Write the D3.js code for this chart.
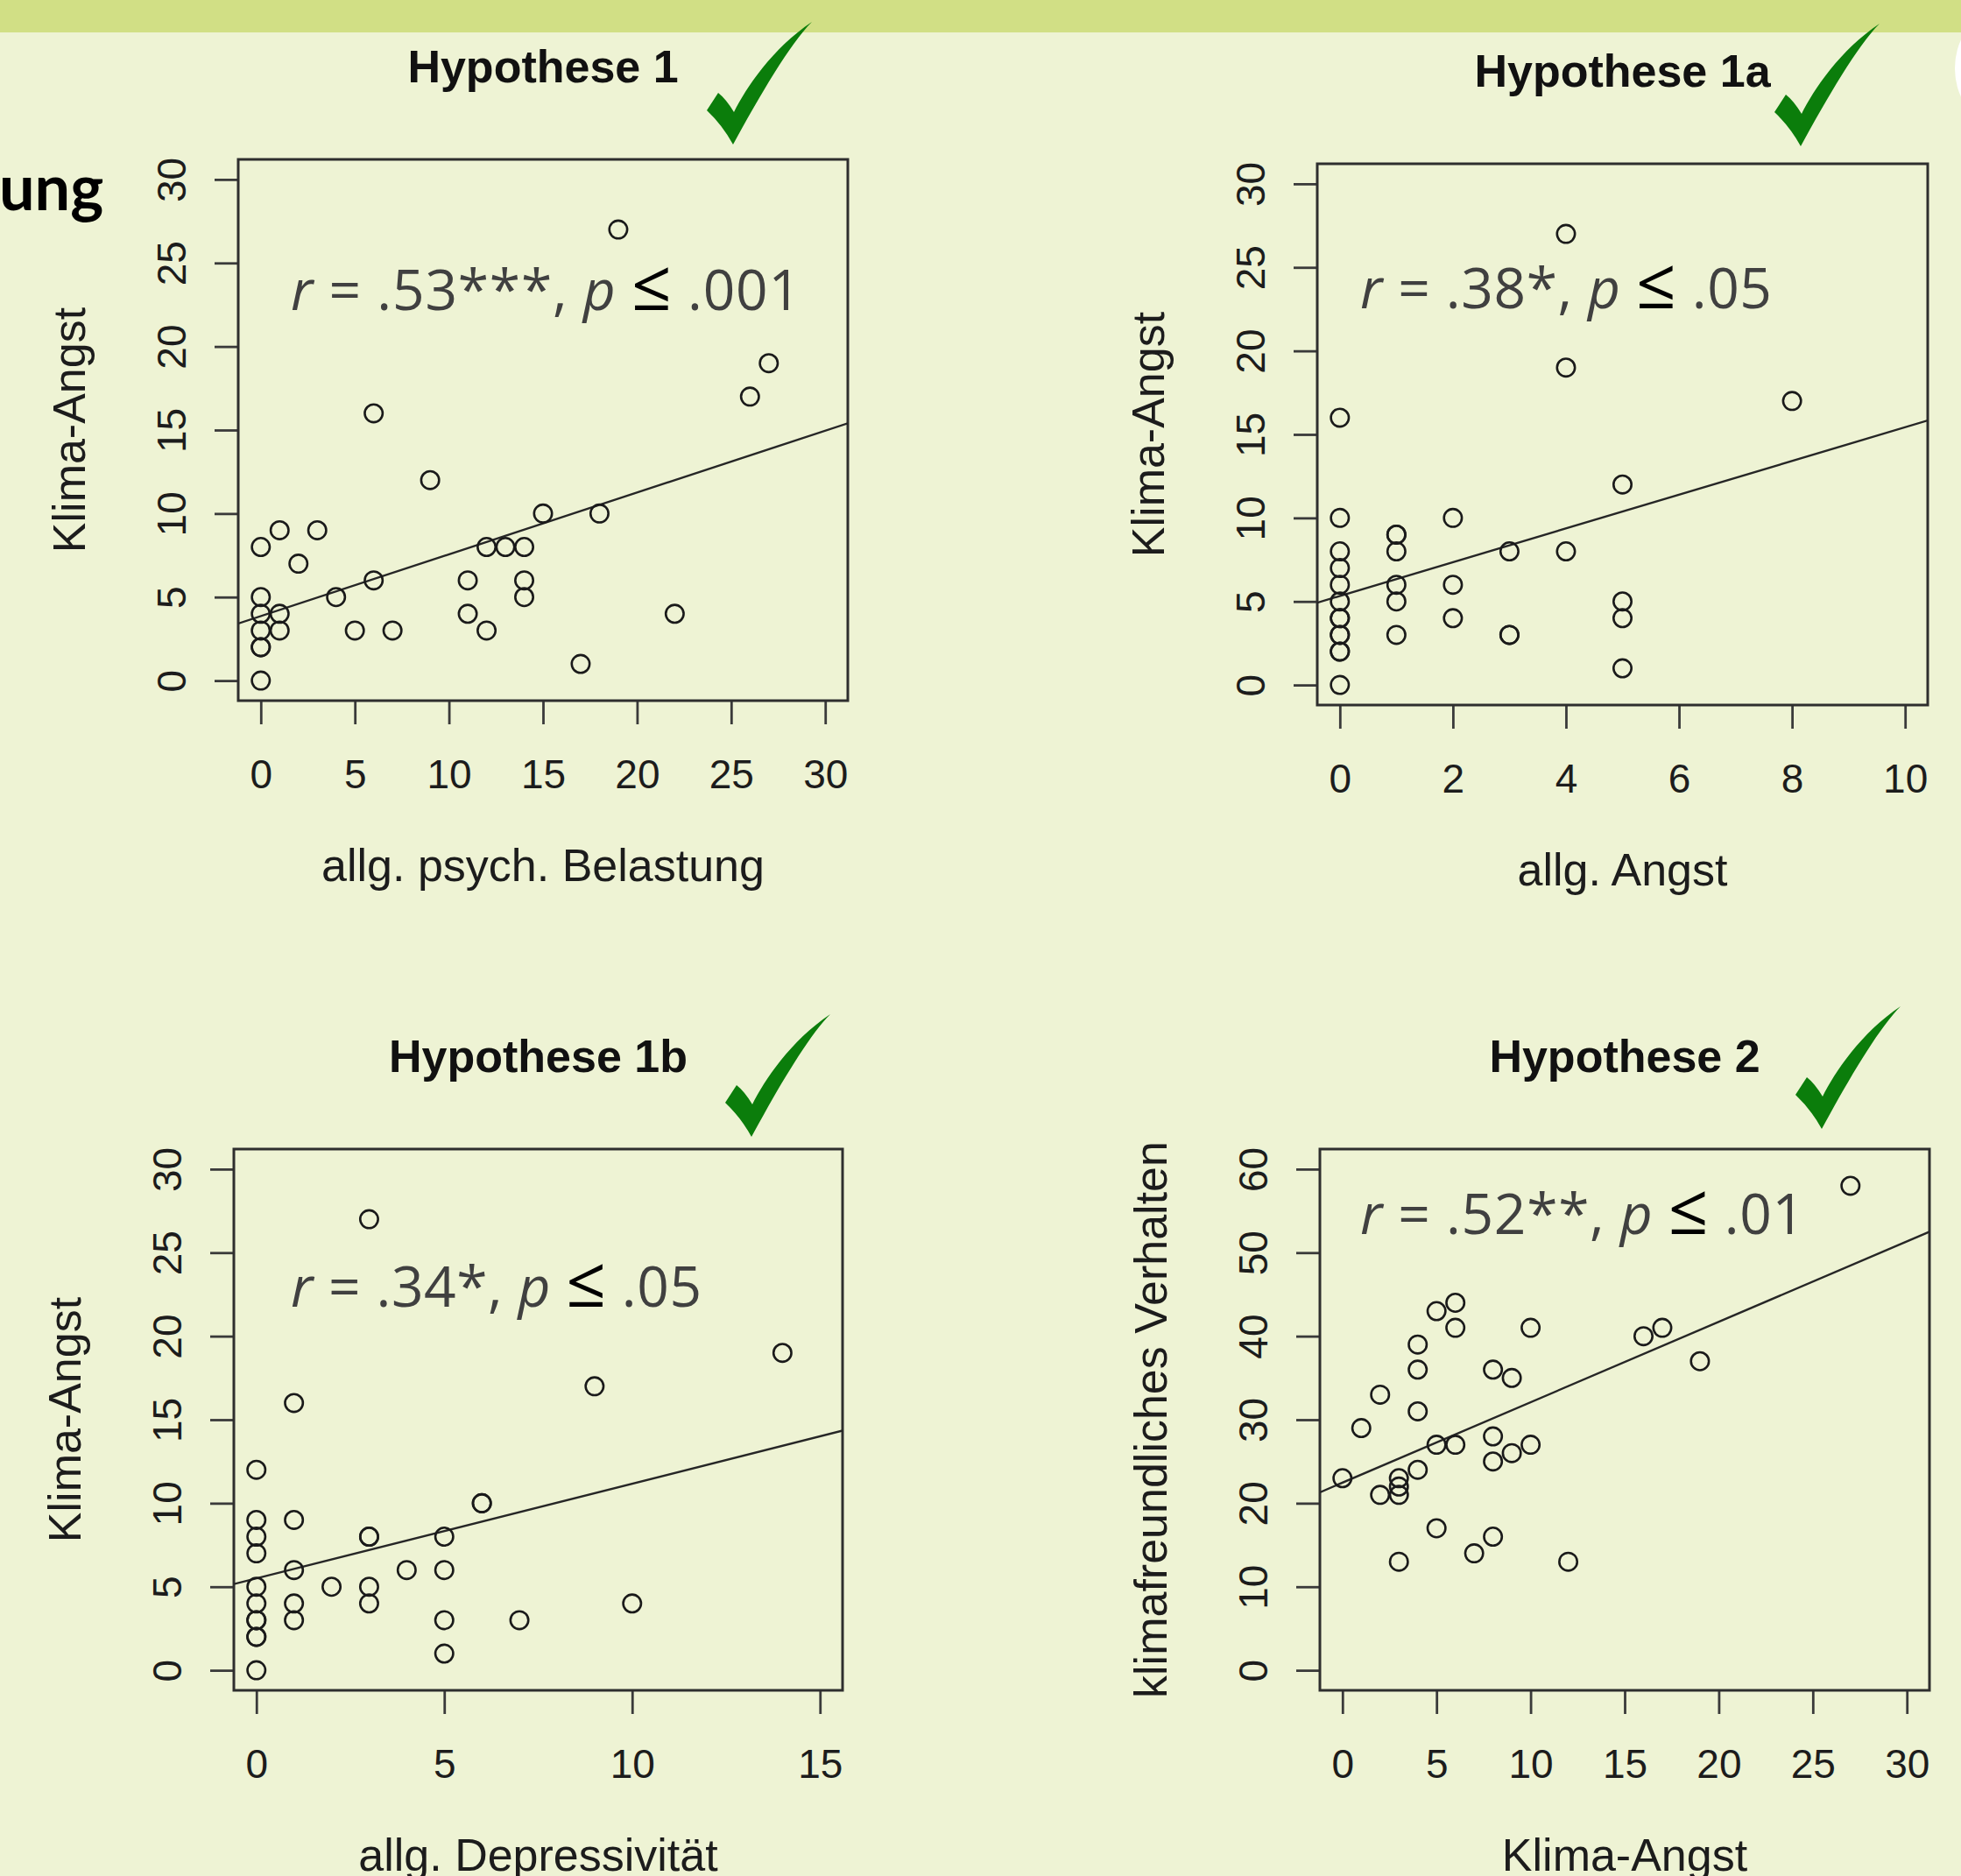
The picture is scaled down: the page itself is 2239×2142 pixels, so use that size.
<!DOCTYPE html>
<html>
<head>
<meta charset="utf-8">
<script src="https://cdn.jsdelivr.net/npm/d3@7"></script>
<style>
body { margin: 0; background: #eef3d4; }
svg { display: block; }
</style>
</head>
<body>
<script>
// --- data ---
var belastung    = [0,0,0,0,0,0,0,1,1,1,2,3,4,5,6,6,7,9,11,11,12,12,13,14,14,14,15,17,18,19,22,26,27];
var klimaAngstH1 = [0,2,2,3,4,5,8,3,4,9,7,9,5,3,16,6,3,12,6,4,8,3,8,8,6,5,10,1,10,27,4,17,19];

var angst         = [0,0,0,0,0,0,0,0,0,0,0,0,0,1,1,1,1,1,1,2,2,2,3,3,3,4,4,4,5,5,5,5,8];
var klimaAngstH1a = [0,2,2,3,3,4,4,5,6,7,8,10,16,3,5,6,8,9,9,4,6,10,3,3,8,8,19,27,1,4,5,12,17];

var depress       = [0,0,0,0,0,0,0,0,0,0,0,1,1,1,1,1,2,3,3,3,3,3,4,5,5,5,5,6,6,7,9,10,14];
var klimaAngstH1b = [0,2,2,3,3,4,5,7,8,9,12,3,4,6,9,16,5,4,5,8,8,27,6,1,3,6,8,10,10,3,17,4,19];

var klimaAngstH2 = [0,1,2,2,3,3,3,3,4,4,4,4,5,5,5,6,6,6,7,8,8,8,8,9,9,10,10,12,16,17,19,27];
var verhalten    = [23,29,33,21,23,22,21,13,39,36,31,24,43,27,17,44,41,27,14,36,28,25,16,35,26,41,27,13,40,41,37,58];

// regression lines [intercept, slope]
var fitH1 = [3.86, 0.37], fitH1a = [5.33, 1.01], fitH1b = [5.5, 0.567], fitH2 = [22.46, 0.963];

var ticks30 = [0,5,10,15,20,25,30], ticks10 = [0,2,4,6,8,10], ticks15 = [0,5,10,15], ticks60 = [0,10,20,30,40,50,60];

var titles  = ['Hypothese 1', 'Hypothese 1a', 'Hypothese 1b', 'Hypothese 2'];
var xTitles = ['allg. psych. Belastung', 'allg. Angst', 'allg. Depressivität', 'Klima-Angst'];
var yTitles = ['Klima-Angst', 'Klima-Angst', 'Klima-Angst', 'klimafreundliches Verhalten'];
var stats   = [['.53***', '.001'], ['.38*', '.05'], ['.34*', '.05'], ['.52**', '.01']];

// layout of each plot region (px) plus where the stat label and the check mark sit
var panels = [
  {x: belastung, y: klimaAngstH1, fit: fitH1, xd: [0,30], yd: [0,30], xt: ticks30, yt: ticks30,
   box: [272, 968, 182, 800], stat: [332, 354, 582], check: [807, 25]},
  {x: angst, y: klimaAngstH1a, fit: fitH1a, xd: [0,10], yd: [0,30], xt: ticks10, yt: ticks30,
   box: [1504, 2201, 187, 805], stat: [1553, 352, 470], check: [2026, 27]},
  {x: depress, y: klimaAngstH1b, fit: fitH1b, xd: [0,15], yd: [0,30], xt: ticks15, yt: ticks30,
   box: [267, 962, 1312, 1930], stat: [332, 1492, 469], check: [828, 1158]},
  {x: klimaAngstH2, y: verhalten, fit: fitH2, xd: [0,30], yd: [0,60], xt: ticks30, yt: ticks60,
   box: [1507, 2203, 1312, 1930], stat: [1553, 1409, 507], check: [2050, 1149]}
];

var W = 2239, H = 2142
  , rFont = '"Liberation Sans", Arial, Helvetica, sans-serif'
  , ink = '#1c1c1c';

var svg = d3.select('body').append('svg').attr('width', W).attr('height', H);
svg.append('rect').attr('width', W).attr('height', H).attr('fill', '#eef3d4');
svg.append('rect').attr('width', W).attr('height', 37).attr('fill', '#d1df85');
svg.append('ellipse').attr('cx', 2270).attr('cy', 78).attr('rx', 38).attr('ry', 56).attr('fill', '#ffffff');

// the slide heading cut off at the left edge
svg.append('text').attr('x', -1).attr('y', 240).attr('font-family', 'Lato, "Open Sans", sans-serif')
   .attr('font-weight', 'bold').attr('font-size', 72).attr('fill', '#000').text('ung');

// R extends the axis range by 4% on each side
var pad = function(d) { var e = (d[1] - d[0]) * 0.04; return [d[0] - e, d[1] + e]; };

var checkPath = 'M0,101 L13,81 Q22,88 31,103 C45,75 75,30 120,0 C95,25 60,85 30,140 Q18,118 0,101 Z';

panels.forEach(function(p, i) {
    var b = p.box
      , x = d3.scaleLinear().domain(pad(p.xd)).range([b[0], b[1]])
      , y = d3.scaleLinear().domain(pad(p.yd)).range([b[3], b[2]])
      , cx = (b[0] + b[1]) / 2, cy = (b[2] + b[3]) / 2
      , g = svg.append('g');

    var clipId = 'clip' + i;
    g.append('clipPath').attr('id', clipId).append('rect')
     .attr('x', b[0]).attr('y', b[2]).attr('width', b[1] - b[0]).attr('height', b[3] - b[2]);

    // axes: ticks pointing out of the box, no separate domain line
    var gx = g.append('g').attr('transform', 'translate(0,' + b[3] + ')')
              .call(d3.axisBottom(x).tickValues(p.xt).tickSize(27).tickPadding(40));
    var gy = g.append('g').attr('transform', 'translate(' + b[0] + ',0)')
              .call(d3.axisLeft(y).tickValues(p.yt).tickSize(27));
    [gx, gy].forEach(function(a) {
        a.select('.domain').remove();
        a.attr('font-family', rFont).attr('font-size', 46);
        a.selectAll('line').attr('stroke', '#3a3a3a').attr('stroke-width', 2.8);
        a.selectAll('text').attr('fill', ink);
    });
    gy.selectAll('text').attr('x', null).attr('dy', null).attr('text-anchor', 'middle')
      .attr('transform', 'translate(-60,0) rotate(-90)');

    // box
    g.append('rect').attr('x', b[0]).attr('y', b[2]).attr('width', b[1] - b[0]).attr('height', b[3] - b[2])
     .attr('fill', 'none').attr('stroke', '#2e2e2e').attr('stroke-width', 3);

    // regression line
    var ends = x.domain();
    g.append('line').attr('clip-path', 'url(#' + clipId + ')')
     .attr('x1', x(ends[0])).attr('y1', y(p.fit[0] + p.fit[1] * ends[0]))
     .attr('x2', x(ends[1])).attr('y2', y(p.fit[0] + p.fit[1] * ends[1]))
     .attr('stroke', '#262626').attr('stroke-width', 2.4);

    // points (open circles, pch = 1)
    g.append('g').selectAll('circle').data(p.x).enter().append('circle')
     .attr('cx', function(d) { return x(d); })
     .attr('cy', function(d, k) { return y(p.y[k]); })
     .attr('r', 10.2).attr('fill', 'none').attr('stroke', '#1a1a1a').attr('stroke-width', 2.6);

    // titles
    g.append('text').attr('x', cx).attr('y', b[2] - 88).attr('text-anchor', 'middle')
     .attr('font-family', rFont).attr('font-weight', 'bold').attr('font-size', 52).attr('fill', '#111')
     .text(titles[i]);
    g.append('text').attr('x', cx).attr('y', b[3] + 206).attr('text-anchor', 'middle')
     .attr('font-family', rFont).attr('font-size', 52).attr('fill', ink).text(xTitles[i]);
    g.append('text').attr('text-anchor', 'middle')
     .attr('transform', 'translate(' + (b[0] - 175) + ',' + cy + ') rotate(-90)')
     .attr('font-family', rFont).attr('font-size', 52).attr('fill', ink).text(yTitles[i]);

    // r / p annotation, spaced to the width seen in the slide
    var st = g.append('text').attr('x', p.stat[0]).attr('y', p.stat[1])
               .attr('font-family', '"Open Sans", Lato, sans-serif').attr('font-size', 64).attr('fill', '#404040');
    st.append('tspan').attr('font-style', 'italic').text('r');
    st.append('tspan').text(' = ' + stats[i][0] + ', ');
    st.append('tspan').attr('font-style', 'italic').text('p');
    st.append('tspan').text(' ');
    st.append('tspan').attr('fill', '#000').attr('font-size', 80).text('≤');
    st.append('tspan').text(' ' + stats[i][1]);
    var natural = st.node().getComputedTextLength()
      , nChars = st.text().length;
    st.attr('letter-spacing', ((p.stat[2] - natural) / (nChars - 1)).toFixed(2));

    // green tick
    g.append('path').attr('d', checkPath).attr('fill', '#0b7d0b')
     .attr('transform', 'translate(' + p.check[0] + ',' + p.check[1] + ')');
});
</script>
</body>
</html>
